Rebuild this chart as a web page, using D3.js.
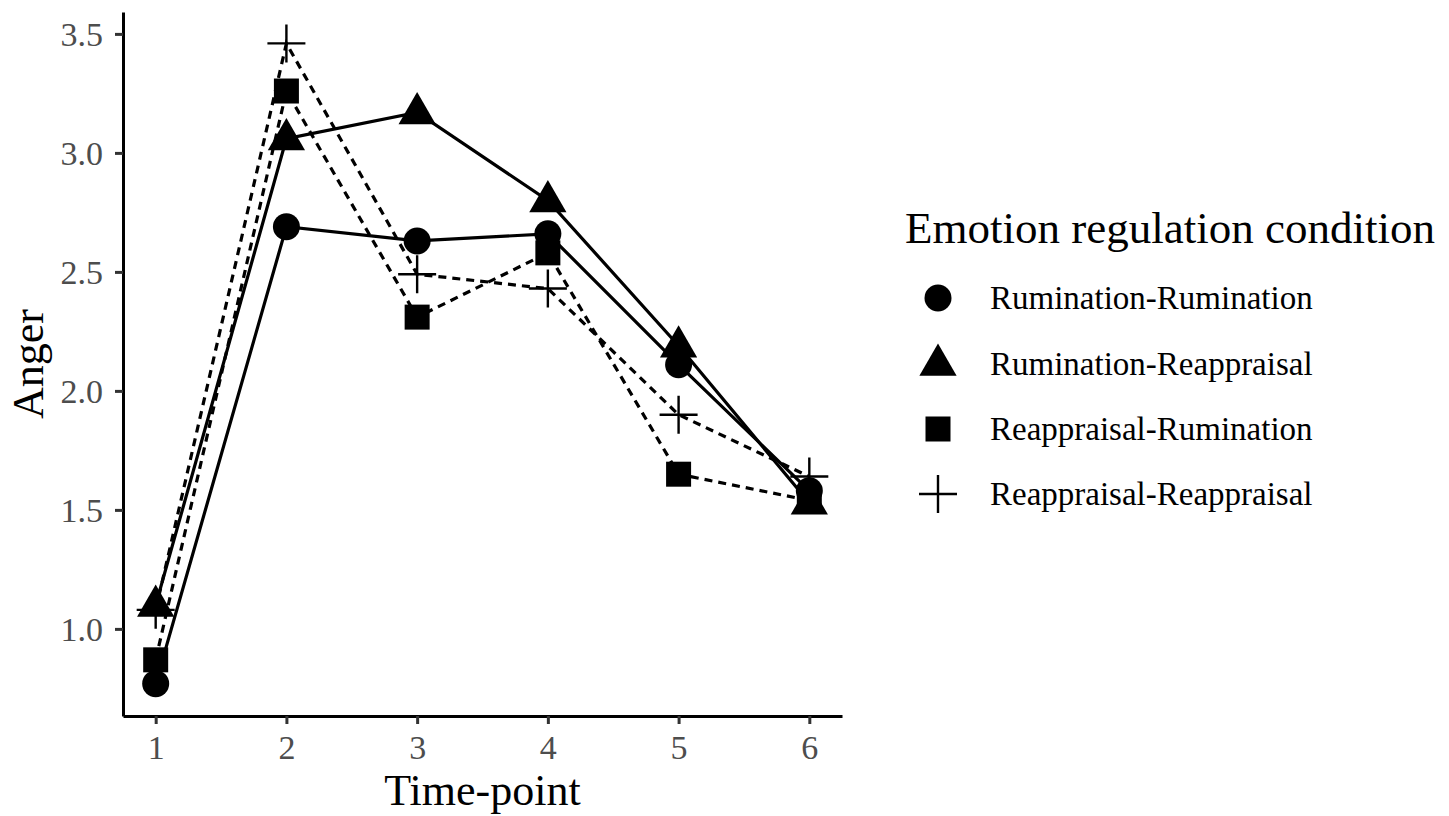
<!DOCTYPE html>
<html>
<head>
<meta charset="utf-8">
<script src="https://cdn.jsdelivr.net/npm/d3@7"></script>
<style>
  body { margin: 0; background: #fff; }
  text { font-family: "Liberation Serif", "DejaVu Serif", serif; }
</style>
</head>
<body>
<script>
// time-points on the x axis
const timePoints = [1, 2, 3, 4, 5, 6];
const conditions = ["Rumination-Rumination", "Rumination-Reappraisal", "Reappraisal-Rumination", "Reappraisal-Reappraisal"];
// mean anger per time-point
const rumRum = [0.77, 2.69, 2.63, 2.66, 2.11, 1.58];
const rumReap = [1.10, 3.06, 3.17, 2.80, 2.19, 1.53];
const reapRum = [0.87, 3.26, 2.31, 2.58, 1.65, 1.54];
const reapReap = [1.08, 3.46, 2.49, 2.43, 1.90, 1.64];
const yTicks = [1.0, 1.5, 2.0, 2.5, 3.0, 3.5];

const series = [
  { name: conditions[0], values: rumRum, shape: "circle", dash: null },
  { name: conditions[1], values: rumReap, shape: "triangle", dash: null },
  { name: conditions[2], values: reapRum, shape: "square", dash: "8,6" },
  { name: conditions[3], values: reapReap, shape: "plus", dash: "8,6" }
];

const width = 1449, height = 816;
const svg = d3.select("body").append("svg")
  .attr("width", width)
  .attr("height", height);

// plot panel
const plotLeft = 123, plotRight = 842, plotTop = 12, plotBottom = 716;

const x = d3.scaleLinear().domain([0.75, 6.25]).range([plotLeft, plotRight]);
const y = d3.scaleLinear().domain([0.634, 3.592]).range([plotBottom, plotTop]);

// axes
const xAxis = svg.append("g")
  .attr("transform", "translate(0," + plotBottom + ")")
  .call(d3.axisBottom(x).tickValues(timePoints).tickFormat(d3.format("d")).tickSize(8).tickSizeOuter(0));
const yAxis = svg.append("g")
  .attr("transform", "translate(" + plotLeft + ",0)")
  .call(d3.axisLeft(y).tickValues(yTicks).tickFormat(d3.format(".1f")).tickSize(8).tickSizeOuter(0));

[xAxis, yAxis].forEach(function(ax) {
  ax.select(".domain").attr("stroke", "#000").attr("stroke-width", 3);
  ax.selectAll(".tick line").attr("stroke", "#333").attr("stroke-width", 3);
  ax.selectAll(".tick text")
    .attr("fill", "#4d4d4d")
    .style("font-size", "34px")
    .style("font-family", "'Liberation Serif', serif");
});
xAxis.selectAll(".tick text").attr("y", 43).attr("dy", 0);
yAxis.selectAll(".tick text").attr("x", -20).attr("dy", "0.34em");

// axis titles
svg.append("text")
  .attr("x", (plotLeft + plotRight) / 2)
  .attr("y", 805)
  .attr("text-anchor", "middle")
  .style("font-size", "44px")
  .text("Time-point");
svg.append("text")
  .attr("transform", "translate(43," + ((plotTop + plotBottom) / 2) + ") rotate(-90)")
  .attr("text-anchor", "middle")
  .style("font-size", "44px")
  .text("Anger");

// draw a marker shape
function drawShape(g, shape, cx, cy) {
  if (shape == "circle") {
    g.append("circle").attr("cx", cx).attr("cy", cy).attr("r", 13.5).attr("fill", "#000");
  } else if (shape == "triangle") {
    g.append("path")
      .attr("d", d3.symbol().type(d3.symbolTriangle).size(600)())
      .attr("transform", "translate(" + cx + "," + (cy + 1) + ")")
      .attr("fill", "#000");
  } else if (shape == "square") {
    g.append("rect").attr("x", cx - 12.5).attr("y", cy - 12.5).attr("width", 25).attr("height", 25).attr("fill", "#000");
  } else {
    g.append("path")
      .attr("d", "M" + (cx - 19) + "," + cy + "H" + (cx + 19) + "M" + cx + "," + (cy - 19) + "V" + (cy + 19))
      .attr("stroke", "#000")
      .attr("stroke-width", 2.4)
      .attr("fill", "none");
  }
}

const line = d3.line()
  .x(function(d, i) { return x(timePoints[i]); })
  .y(function(d) { return y(d); });

// lines first
series.forEach(function(s) {
  svg.append("path")
    .attr("d", line(s.values))
    .attr("fill", "none")
    .attr("stroke", "#000")
    .attr("stroke-width", 3.2)
    .attr("stroke-dasharray", s.dash);
});

// then points
series.forEach(function(s) {
  const g = svg.append("g");
  for (var i = 0; i < s.values.length; i++) {
    drawShape(g, s.shape, x(timePoints[i]), y(s.values[i]));
  }
});

// legend
const legend = svg.append("g");
legend.append("text")
  .attr("x", 905)
  .attr("y", 243)
  .style("font-size", "45px")
  .text("Emotion regulation condition");
const legendY = [298, 364, 429, 494];
series.forEach(function(s, i) {
  drawShape(legend, s.shape, 938, legendY[i]);
  legend.append("text")
    .attr("x", 990)
    .attr("y", legendY[i])
    .attr("dy", "0.34em")
    .style("font-size", "33px")
    .text(s.name);
});
</script>
</body>
</html>
